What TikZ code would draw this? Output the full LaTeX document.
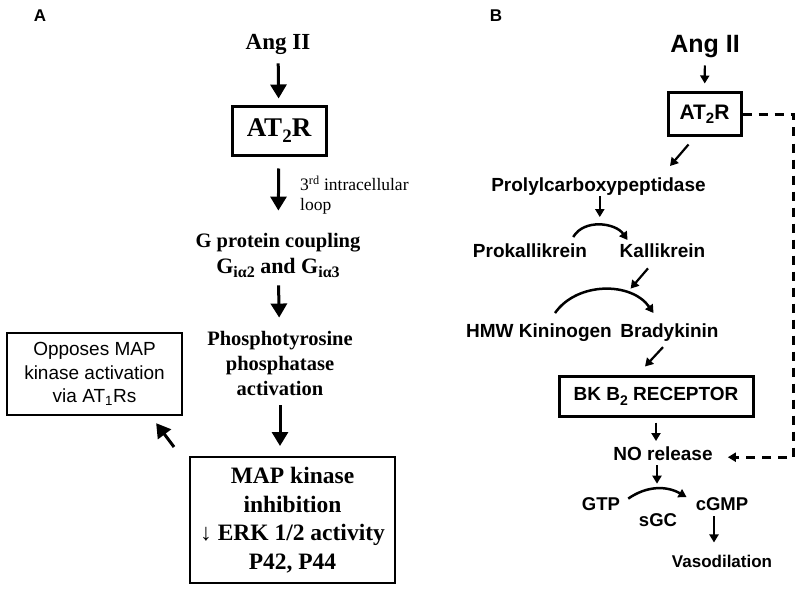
\documentclass[tikz,border=0pt]{standalone}
\usepackage{fontspec}
\setmainfont{Liberation Serif}
\newfontfamily\arialfont{Liberation Sans}
\usetikzlibrary{arrows.meta}
\newcommand{\lowsub}[3]{\raisebox{-#2}{\fontsize{#1}{#1}\selectfont #3}}

\begin{document}
\begin{tikzpicture}[x=1pt, y=1pt, every node/.style={inner sep=0pt},
    timesbf/.style 2 args={font=\fontsize{#1}{#2}\selectfont\bfseries, align=center},
    arialbf/.style={font=\arialfont\bfseries\fontsize{#1}{#1}\selectfont},
    arialrg/.style 2 args={font=\arialfont\fontsize{#1}{#2}\selectfont, align=center},
    boxA/.style={draw, line width=#1},
    boxB/.style={draw, line width=3pt},
    arrA/.style={-{Triangle[length=14pt,width=16pt]}, line width=3pt},
    arrB/.style={-{Triangle[length=8pt,width=9pt]}, line width=2.2pt},
    arcB/.style={arrB, line width=2.5pt},
    dashB/.style={arrB, line width=3pt, dash pattern=on 9pt off 7pt}]
  \useasboundingbox (0,0) rectangle (800,-591);

  % Panel A
  \node[anchor=base, arialbf=17] (Label-A) at (40,-22) {A};
  \node[anchor=base, timesbf={23}{27}] (Ang-A) at (278,-50) {Ang II};
  \node[boxA=3pt, minimum width=94pt, minimum height=49pt, timesbf={27}{30}] (AT2R-A) at (279,-131) {AT\lowsub{19}{6pt}{2}R};
  \node[anchor=north west, font=\fontsize{17.5}{20}\selectfont, align=left] (Loop-A) at (300,-176) {3\textsuperscript{rd} intracellular\\loop};
  \node[anchor=base, timesbf={20.5}{26}] (Gprot-A) at (278,-273) {G protein coupling\\{\fontsize{22}{22}\selectfont G\lowsub{16}{4pt}{iα2} and G\lowsub{16}{4pt}{iα3}}};  % base = last line
  \node[anchor=base, timesbf={20.5}{25}] (PTP-A) at (280,-395) {Phosphotyrosine\\phosphatase\\activation};
  \node[boxA=2pt, minimum width=205pt, minimum height=126pt, timesbf={23.5}{28.5}] (MAPK-A) at (292.5,-520) {MAP kinase\\inhibition\\{\mdseries↓} ERK 1/2 activity\\P42, P44};
  \node[boxA=2.3pt, minimum width=175pt, minimum height=82pt, arialrg={19}{23.5}] (Opposes-A) at (94.5,-374) {Opposes MAP\\kinase activation\\via AT\textsubscript{1}Rs};

  \draw[arrA, shorten <=8pt, shorten >=6.5pt] (Ang-A) -- (AT2R-A);  % Ang II binds
  \draw[arrA, shorten <=11.5pt, shorten >=22pt] (AT2R-A) -- (Gprot-A);
  \draw[arrA, shorten <=8pt, shorten >=13pt] (Gprot-A) -- (PTP-A);
  \draw[arrA, shorten <=10pt, shorten >=10pt] (PTP-A.south) -- (PTP-A.south |- MAPK-A.north);
  \draw[arrA] ([xshift=-15pt,yshift=9pt]MAPK-A.north west) -- ([xshift=-27pt,yshift=-7pt]Opposes-A.south east);

  % Panel B
  \node[anchor=base, arialbf=17] (Label-B) at (496,-22) {B};
  \node[anchor=base, arialbf=25] (Ang-B) at (705,-53) {Ang II};
  \node[boxB, minimum width=73pt, minimum height=43pt, arialbf=21] (AT2R-B) at (704.5,-114.5) {AT\lowsub{15}{4pt}{2}R};
  \node[anchor=base, arialbf=19] (Prolyl-B) at (598.5,-191) {Prolylcarboxypeptidase};
  \node[anchor=base, arialbf=19] (Prokal-B) at (530,-257) {Prokallikrein};
  \node[anchor=base, arialbf=19] (Kal-B) at (662.5,-257) {Kallikrein};
  \node[anchor=base, arialbf=19] (HMW-B) at (539,-337) {HMW Kininogen};
  \node[anchor=base, arialbf=19] (Brady-B) at (669.5,-337) {Bradykinin};
  \node[boxB, minimum width=194pt, minimum height=40pt, arialbf=19] (BKB2-B) at (656,-396) {BK B\lowsub{14}{5pt}{2} RECEPTOR};
  \node[anchor=base, arialbf=19] (NO-B) at (663,-460) {NO release};
  \node[anchor=base, arialbf=18.5] (GTP-B) at (601,-510) {GTP};
  \node[anchor=base, arialbf=18.5] (cGMP-B) at (722,-510) {cGMP};
  \node[anchor=base, arialbf=18.5] (sGC-B) at (658,-526) {sGC};
  \node[anchor=base, arialbf=17] (Vaso-B) at (722,-567) {Vasodilation};

  \draw[arcB] ([xshift=-14pt,yshift=6pt]Prokal-B.north east) to[out=60,in=125] coordinate[pos=.5] (Arc-Kal) ([xshift=8pt,yshift=3pt]Kal-B.north west);
  \draw[arcB] ([xshift=16pt,yshift=10pt]HMW-B.north) to[out=55,in=125] coordinate[pos=.7] (Arc-HMW) ([xshift=-16pt,yshift=10pt]Brady-B.north);
  \draw[arcB] ([xshift=8pt,yshift=5pt]GTP-B.east) to[out=35,in=150] coordinate[pos=.5] (Arc-sGC) ([xshift=-9pt,yshift=6.5pt]cGMP-B.west);

  \draw[arrB, shorten <=7pt, shorten >=8pt] (Ang-B) -- (AT2R-B);
  \draw[arrB] ([xshift=-16pt,yshift=-7pt]AT2R-B.south) -- ([xshift=71.5pt,yshift=11pt]Prolyl-B.north);
  \draw[arrB, shorten <=1pt, shorten >=8pt] (Arc-Kal |- Prolyl-B.south) -- (Arc-Kal);
  \draw[arrB, shorten >=6pt] ([xshift=-14.5pt,yshift=-11pt]Kal-B.south) -- (Arc-HMW);
  \draw[arrB] ([xshift=-6.5pt,yshift=-6pt]Brady-B.south) -- ([xshift=-11pt,yshift=8pt]BKB2-B.north);
  \draw[arrB, shorten <=5pt, shorten >=5pt] (BKB2-B.south) -- (BKB2-B.south |- NO-B.north);
  \draw[arrB, shorten <=5pt, shorten >=5pt] (Arc-sGC |- NO-B.south) -- (Arc-sGC);
  \draw[arrB, shorten <=6pt, shorten >=12pt] ([xshift=-8pt]cGMP-B.south) -- ([xshift=-8pt]cGMP-B.south |- Vaso-B.north);
  \draw[dashB, shorten >=15pt] (AT2R-B.east) -- ++(51,0) |- ([yshift=-4pt]NO-B.east);  % direct route
\end{tikzpicture}
\end{document}
